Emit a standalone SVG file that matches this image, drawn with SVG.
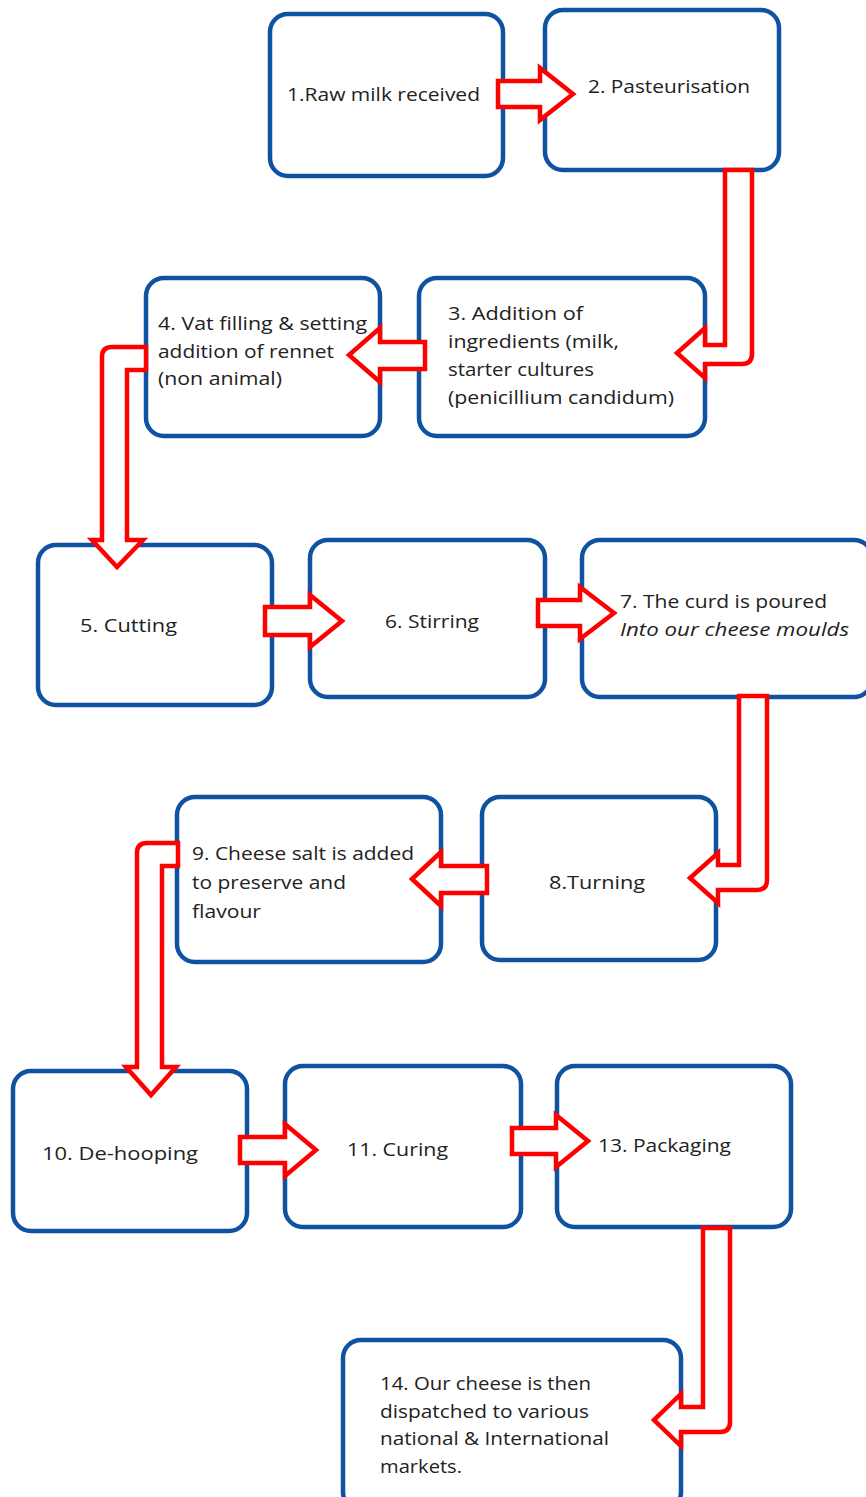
<svg xmlns="http://www.w3.org/2000/svg" width="866" height="1497" viewBox="0 0 866 1497">
<style>
.box{fill:#fff;stroke:#0f52a2;stroke-width:4.5}
.arr{fill:#fff;stroke:#ff0000;stroke-width:4.5;stroke-linejoin:miter}
text{font-family:"Open Sans","Noto Sans","Liberation Sans",sans-serif;font-size:19px;fill:#222}
.it{font-style:italic}
</style>
<rect width="866" height="1497" fill="#fff"/>
<g id="n1"><rect class="box" x="270" y="14" width="233" height="162" rx="18"/><text x="287" y="101" textLength="193" lengthAdjust="spacingAndGlyphs">1.Raw milk received</text></g>
<g id="n2"><rect class="box" x="545" y="10" width="234" height="160" rx="18"/><text x="588" y="93" textLength="162" lengthAdjust="spacingAndGlyphs">2. Pasteurisation</text></g>
<g id="n3"><rect class="box" x="419" y="278" width="286" height="158" rx="18"/>
<text x="448" y="320" textLength="135" lengthAdjust="spacingAndGlyphs">3. Addition of</text>
<text x="448" y="348" textLength="171" lengthAdjust="spacingAndGlyphs">ingredients (milk,</text>
<text x="448" y="376" textLength="146" lengthAdjust="spacingAndGlyphs">starter cultures</text>
<text x="448" y="404" textLength="226" lengthAdjust="spacingAndGlyphs">(penicillium candidum)</text></g>
<g id="n4"><rect class="box" x="146" y="278" width="234" height="158" rx="18"/>
<text x="158" y="330" textLength="209" lengthAdjust="spacingAndGlyphs">4. Vat filling &amp; setting</text>
<text x="158" y="358" textLength="176" lengthAdjust="spacingAndGlyphs">addition of rennet</text>
<text x="158" y="385" textLength="124" lengthAdjust="spacingAndGlyphs">(non animal)</text></g>
<g id="n5"><rect class="box" x="38" y="545" width="234" height="160" rx="18"/><text x="80" y="632" textLength="97" lengthAdjust="spacingAndGlyphs">5. Cutting</text></g>
<g id="n6"><rect class="box" x="310" y="540" width="235" height="157" rx="18"/><text x="385" y="628" textLength="94" lengthAdjust="spacingAndGlyphs">6. Stirring</text></g>
<g id="n7"><rect class="box" x="582" y="540" width="290" height="157" rx="18"/>
<text x="620" y="608" textLength="207" lengthAdjust="spacingAndGlyphs">7. The curd is poured</text>
<text class="it" x="620" y="636" textLength="229" lengthAdjust="spacingAndGlyphs">Into our cheese moulds</text></g>
<g id="n8"><rect class="box" x="482" y="797" width="234" height="163" rx="18"/><text x="549" y="889" textLength="96" lengthAdjust="spacingAndGlyphs">8.Turning</text></g>
<g id="n9"><rect class="box" x="177" y="797" width="264" height="165" rx="18"/>
<text x="192" y="860" textLength="222" lengthAdjust="spacingAndGlyphs">9. Cheese salt is added</text>
<text x="192" y="889" textLength="154" lengthAdjust="spacingAndGlyphs">to preserve and</text>
<text x="192" y="918" textLength="69" lengthAdjust="spacingAndGlyphs">flavour</text></g>
<g id="n10"><rect class="box" x="13" y="1071" width="234" height="160" rx="18"/><text x="42" y="1160" textLength="156" lengthAdjust="spacingAndGlyphs">10. De-hooping</text></g>
<g id="n11"><rect class="box" x="285" y="1066" width="236" height="161" rx="18"/><text x="347" y="1156" textLength="101" lengthAdjust="spacingAndGlyphs">11. Curing</text></g>
<g id="n13"><rect class="box" x="557" y="1066" width="234" height="161" rx="18"/><text x="598" y="1152" textLength="133" lengthAdjust="spacingAndGlyphs">13. Packaging</text></g>
<g id="n14"><rect class="box" x="343" y="1340" width="338" height="170" rx="18"/>
<text x="380" y="1390" textLength="211" lengthAdjust="spacingAndGlyphs">14. Our cheese is then</text>
<text x="380" y="1418" textLength="209" lengthAdjust="spacingAndGlyphs">dispatched to various</text>
<text x="380" y="1445" textLength="229" lengthAdjust="spacingAndGlyphs">national &amp; International</text>
<text x="380" y="1473" textLength="82" lengthAdjust="spacingAndGlyphs">markets.</text></g>
<g id="connectors">
<path class="arr" d="M498,81 H540 V68 L573,94 L540,120 V107 H498 Z"/>
<path class="arr" d="M725,170 V345 H705 V328 L677,353 L705,378 V364 H742 Q752,364 752,354 V170 Z"/>
<path class="arr" d="M425,342 H380 V328 L349,355 L380,382 V369 H425 Z"/>
<path class="arr" d="M146,347 H112 Q102,347 102,357 V540 H92 L117,567 L143,540 H127 V370 H146 Z"/>
<path class="arr" d="M265,607 H310 V595 L342,621 L310,647 V635 H265 Z"/>
<path class="arr" d="M538,600 H580 V587 L614,613 L580,639 V626 H538 Z"/>
<path class="arr" d="M739,696 V865 H718 V853 L690,878 L718,903 V890 H757 Q767,890 767,880 V696 Z"/>
<path class="arr" d="M487,866 H441 V852 L412,879 L441,906 V893 H487 Z"/>
<path class="arr" d="M178,843 H147 Q137,843 137,853 V1067 H126 L151,1095 L176,1067 H162 V866 H178 Z"/>
<path class="arr" d="M240,1137 H285 V1124 L316,1150 L285,1176 V1163 H240 Z"/>
<path class="arr" d="M512,1128 H556 V1115 L588,1141 L556,1167 V1154 H512 Z"/>
<path class="arr" d="M703,1228 V1407 H681 V1394 L654,1420 L681,1446 V1432 H720 Q730,1432 730,1422 V1228 Z"/>
</g>
</svg>
